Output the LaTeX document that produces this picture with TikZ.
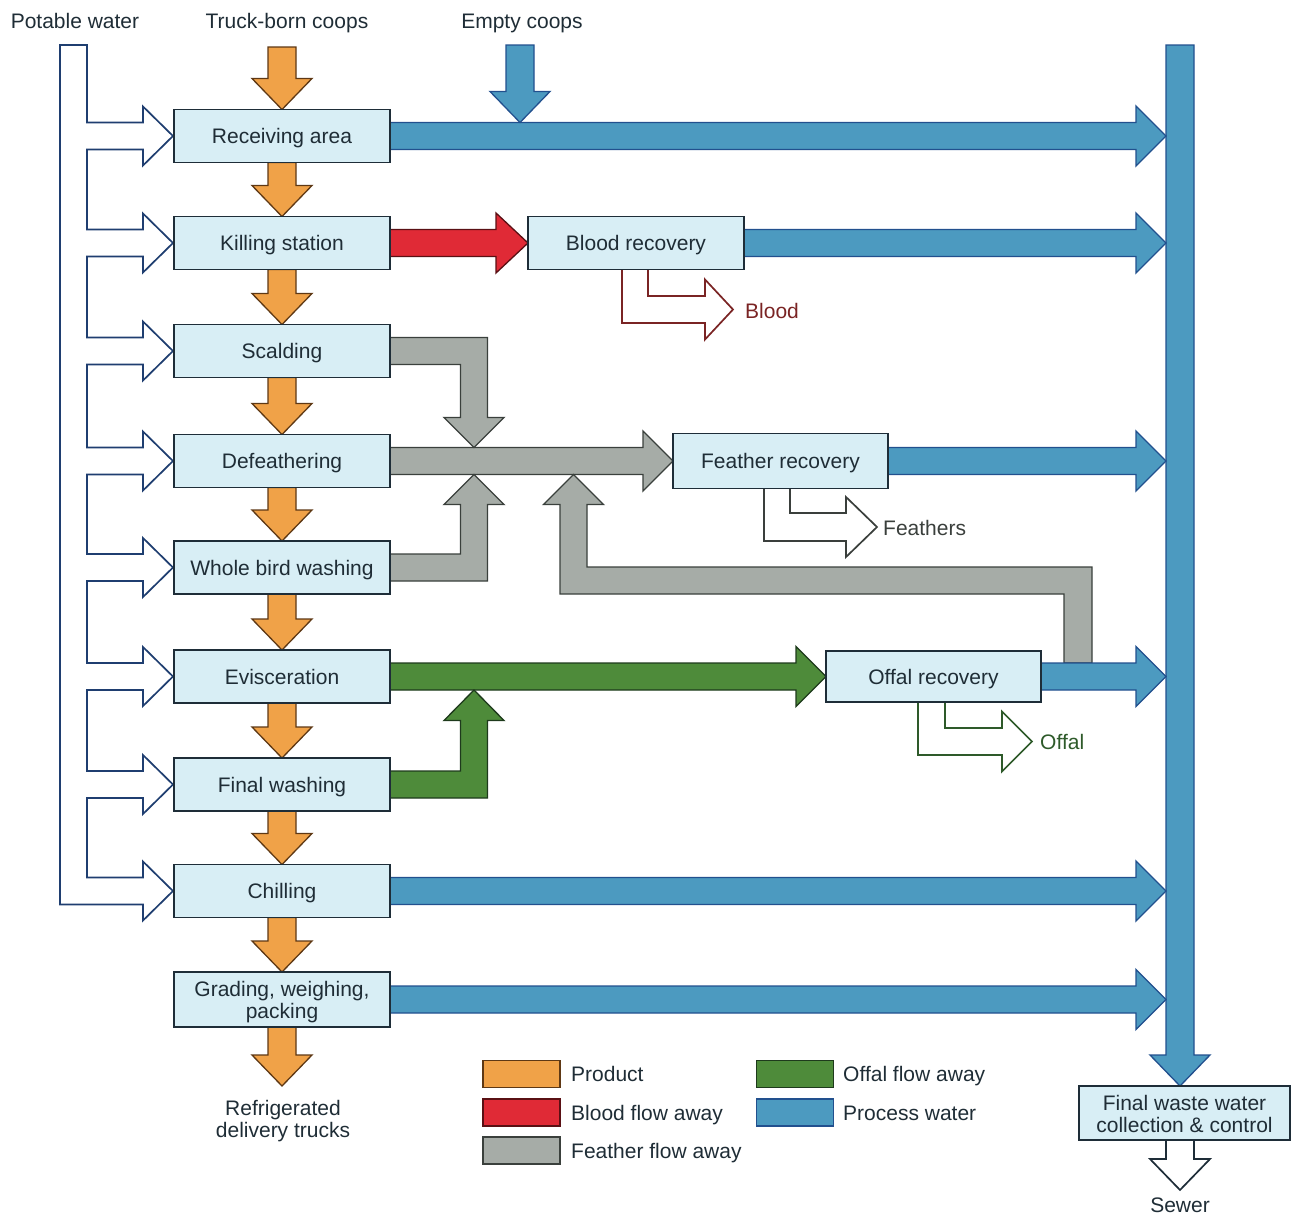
\documentclass[tikz,border=0pt]{standalone}
\usepackage{fontspec}
\setmainfont{Liberation Sans}
\usetikzlibrary{calc}
\pgfdeclarelayer{background}
\pgfsetlayers{background,main}
\definecolor{boxF}{HTML}{D8EEF5}
\definecolor{boxD}{HTML}{1E2D38}
\definecolor{txt}{HTML}{1F2D36}
\definecolor{orangeF}{HTML}{F0A248}
\definecolor{orangeD}{HTML}{5E3814}
\definecolor{blueF}{HTML}{4C9AC0}
\definecolor{blueD}{HTML}{22508E}
\definecolor{redF}{HTML}{E02A36}
\definecolor{redD}{HTML}{5A1014}
\definecolor{grayF}{HTML}{A6ACA7}
\definecolor{grayD}{HTML}{3A403C}
\definecolor{greenF}{HTML}{4E8B3A}
\definecolor{greenD}{HTML}{1E3A1C}
\definecolor{pipeD}{HTML}{1F3E70}
\definecolor{bloodT}{HTML}{7A2424}
\definecolor{featherT}{HTML}{3A3F3C}
\definecolor{offalT}{HTML}{2E5A2A}
\newcommand\fsz{\fontsize{21}{22}\selectfont}
\tikzset{
  box/.style={draw=boxD, fill=boxF, line width=1.6pt, minimum width=216pt,
    minimum height=53pt, inner sep=0pt, outer sep=0pt, align=center, font=\fsz, text=txt},
  sbox/.style={box, text height=15pt, text depth=0pt},
  lbl/.style={font=\fsz, text=txt, align=center, inner sep=0pt},
  orng/.style={fill=orangeF, draw=orangeD, line width=1.3pt},
  blu/.style={fill=blueF, draw=blueD, line width=1.3pt},
  rd/.style={fill=redF, draw=redD, line width=1.3pt},
  gry/.style={fill=grayF, draw=grayD, line width=1.3pt},
  grn/.style={fill=greenF, draw=greenD, line width=1.3pt},
  swatch/.style={line width=1.3pt, minimum width=77pt, minimum height=27pt, inner sep=0pt},
  openpipe/.style={fill=white, line width=1.7pt, line join=miter},
}
% horizontal block arrow: style, start, tip
\newcommand\harr[4][30pt]{\draw[#2] let \p1=(#3), \p2=(#4) in
  (\x1,\y1+13.5pt) -- (\x2-#1,\y1+13.5pt) -- (\x2-#1,\y1+30pt) -- (\x2,\y1)
  -- (\x2-#1,\y1-30pt) -- (\x2-#1,\y1-13.5pt) -- (\x1,\y1-13.5pt) -- cycle;}
% vertical (downward) block arrow: style, start, tip
\newcommand\darr[3]{\draw[#1] let \p1=(#2), \p2=(#3) in
  (\x1-14pt,\y1) -- (\x1-14pt,\y2+31pt) -- (\x1-30pt,\y2+31pt) -- (\x1,\y2)
  -- (\x1+30pt,\y2+31pt) -- (\x1+14pt,\y2+31pt) -- (\x1+14pt,\y1) -- cycle;}
\begin{document}
\begin{tikzpicture}[x=1pt,y=-1pt]
\useasboundingbox (0,0) rectangle (1291,1218);
% ---------- boxes ----------
\node[sbox] (recv) at (282,136) {Receiving area};
\node[sbox] (kill) at (282,243) {Killing station};
\node[sbox] (scald) at (282,351) {Scalding};
\node[sbox] (defe) at (282,461) {Defeathering};
\node[sbox] (whole) at (282,567.5) {Whole bird washing};
\node[sbox] (evis) at (282,676.5) {Evisceration};
\node[sbox] (finw) at (282,784.5) {Final washing};
\node[sbox] (chill) at (282,891) {Chilling};
\node[box, minimum height=55pt] (grad) at (282,999.5) {\rule{0pt}{21pt}Grading, weighing,\\packing};
\node[sbox] (blood) at (636,243) {Blood recovery};
\node[sbox, minimum width=215pt, minimum height=55pt] (feath) at (780.5,461) {Feather recovery};
\node[sbox, minimum width=215pt, minimum height=51pt] (offal) at (933.5,676.5) {Offal recovery};
\node[box, minimum width=211pt, minimum height=54pt] (fwaste) at (1184.5,1113) {\rule{0pt}{17.5pt}Final waste water\\collection \& control};
% ---------- labels ----------
\node[lbl, anchor=base] (potl) at (75,28) {Potable water};
\node[lbl, anchor=base] (truckl) at (287,28) {Truck-born coops};
\node[lbl, anchor=base] (emptyl) at (522,28) {Empty coops};
\node[lbl] (refl) at (283,1121) {Refrigerated\\delivery trucks};
\node[lbl, anchor=base] (sewl) at (1180,1212.5) {Sewer};
\node[lbl, anchor=base west, text=bloodT] (bloodl) at (745,318.5) {Blood};
\node[lbl, anchor=base west, text=featherT] (featl) at (883,535.5) {Feathers};
\node[lbl, anchor=base west, text=offalT] (offall) at (1040,749.5) {Offal};
% ---------- coordinates ----------
\coordinate (truckTop) at (282,47);
\coordinate (emptyTop) at (520,45);
\coordinate (emptyTip) at (520,122.5);
\coordinate (barTop) at (1180,45);
\coordinate (barL) at (1166,0);
\coordinate (sewTip) at (1180,1190);
\coordinate (gradTip) at (282,1086);
% ---------- legend ----------
\node[swatch, fill=orangeF, draw=orangeD] (lgP) at (521.5,1074) {};
\node[swatch, fill=redF, draw=redD] (lgB) at (521.5,1112.5) {};
\node[swatch, fill=grayF, draw=grayD] (lgF) at (521.5,1150.5) {};
\node[swatch, fill=greenF, draw=greenD] (lgO) at (795,1074) {};
\node[swatch, fill=blueF, draw=blueD] (lgW) at (795,1112.5) {};
\node[lbl, anchor=base west] (lgPt) at (571,1081.5) {Product};
\node[lbl, anchor=base west] (lgBt) at (571,1120) {Blood flow away};
\node[lbl, anchor=base west] (lgFt) at (571,1158) {Feather flow away};
\node[lbl, anchor=base west] (lgOt) at (843,1081.5) {Offal flow away};
\node[lbl, anchor=base west] (lgWt) at (843,1120) {Process water};
\begin{pgfonlayer}{background}
% potable water pipe
\draw[openpipe, draw=pipeD] (60,45) -- (87,45)
  -- (87,122.5) -- (143,122.5) -- (143,106.5) -- (173,136) -- (143,165.5) -- (143,149.5) -- (87,149.5)
  -- (87,229.5) -- (143,229.5) -- (143,213.5) -- (173,243) -- (143,272.5) -- (143,256.5) -- (87,256.5)
  -- (87,337.5) -- (143,337.5) -- (143,321.5) -- (173,351) -- (143,380.5) -- (143,364.5) -- (87,364.5)
  -- (87,447.5) -- (143,447.5) -- (143,431.5) -- (173,461) -- (143,490.5) -- (143,474.5) -- (87,474.5)
  -- (87,554) -- (143,554) -- (143,538) -- (173,567.5) -- (143,597) -- (143,581) -- (87,581)
  -- (87,663) -- (143,663) -- (143,647) -- (173,676.5) -- (143,706) -- (143,690) -- (87,690)
  -- (87,771) -- (143,771) -- (143,755) -- (173,784.5) -- (143,814) -- (143,798) -- (87,798)
  -- (87,877.5) -- (143,877.5) -- (143,861.5) -- (173,891) -- (143,920.5) -- (143,904.5) -- (60,904.5)
  -- cycle;
% product flow
\darr{orng}{truckTop}{recv.north}
\darr{orng}{recv.south}{kill.north}
\darr{orng}{kill.south}{scald.north}
\darr{orng}{scald.south}{defe.north}
\darr{orng}{defe.south}{whole.north}
\darr{orng}{whole.south}{evis.north}
\darr{orng}{evis.south}{finw.north}
\darr{orng}{finw.south}{chill.north}
\darr{orng}{chill.south}{grad.north}
\darr{orng}{grad.south}{gradTip}
% process water collector
\darr{blu}{barTop}{fwaste.north}
% feather flow
\harr{gry}{defe.east}{feath.west}
\draw[gry] (390,337.5) -- (487.5,337.5) -- (487.5,417.5) -- (504,417.5) -- (474,447.5)
  -- (444,417.5) -- (460.5,417.5) -- (460.5,364.5) -- (390,364.5) -- cycle;
\draw[gry] (390,581) -- (487.5,581) -- (487.5,504.5) -- (504,504.5) -- (474,474.5)
  -- (444,504.5) -- (460.5,504.5) -- (460.5,554) -- (390,554) -- cycle;
\draw[gry] (1064,663) -- (1064,594) -- (560,594) -- (560,504.5) -- (543.5,504.5) -- (573.5,474.5)
  -- (603.5,504.5) -- (587,504.5) -- (587,567) -- (1092,567) -- (1092,663) -- cycle;
% blood and offal flow
\harr[32pt]{rd}{kill.east}{blood.west}
\harr{grn}{evis.east}{offal.west}
\draw[grn] (390,798) -- (487.5,798) -- (487.5,720.5) -- (504,720.5) -- (474,690)
  -- (444,720.5) -- (460.5,720.5) -- (460.5,771) -- (390,771) -- cycle;
% process water
\harr{blu}{recv.east}{recv.east -| barL}
\darr{blu}{emptyTop}{emptyTip}
\harr{blu}{blood.east}{blood.east -| barL}
\harr{blu}{feath.east}{feath.east -| barL}
\harr{blu}{offal.east}{offal.east -| barL}
\harr{blu}{chill.east}{chill.east -| barL}
\harr{blu}{grad.east}{grad.east -| barL}
% by-products
\draw[openpipe, draw=bloodT] (622,269) -- (622,323) -- (705,323) -- (705,339.5) -- (733,309.5)
  -- (705,279.5) -- (705,296) -- (648,296) -- (648,269);
\draw[openpipe, draw=featherT] (764,489) -- (764,541) -- (846,541) -- (846,557) -- (877,527)
  -- (846,497) -- (846,513) -- (790,513) -- (790,489);
\draw[openpipe, draw=offalT] (918,702) -- (918,755) -- (1002,755) -- (1002,771.5) -- (1032,741.5)
  -- (1002,711.5) -- (1002,728) -- (945,728) -- (945,702);
% sewer
\darr{openpipe, draw=boxD}{fwaste.south -| barTop}{sewTip}
\end{pgfonlayer}
\end{tikzpicture}
\end{document}
